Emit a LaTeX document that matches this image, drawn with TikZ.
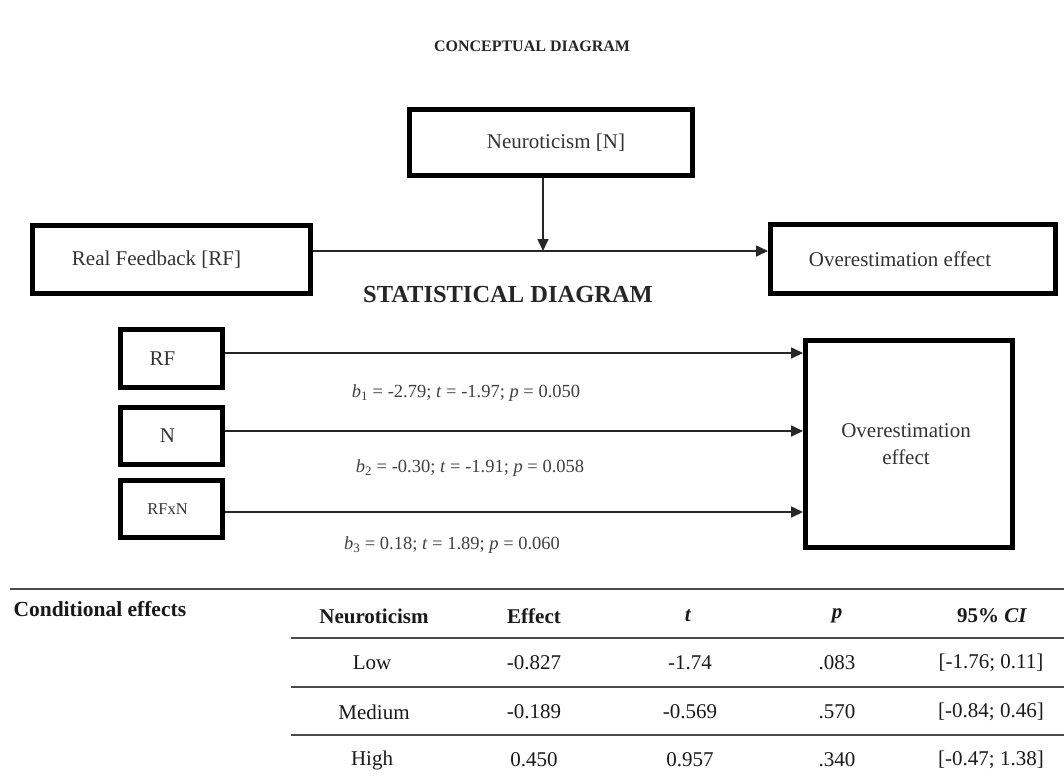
\documentclass[tikz,border=0pt]{standalone}
\usepackage{fontspec}
\setmainfont{Liberation Serif}
\usetikzlibrary{arrows.meta}
\begin{document}
\begin{tikzpicture}[x=1pt,y=-1pt,
  box/.style={draw=black, line width=5pt, inner sep=0pt, text=black!80,
    font=\fontsize{21}{26}\selectfont},
  conn/.style={draw=black!85, line width=1.6pt, -{Triangle[length=12pt,width=11pt]}},
  blbl/.style={text=black!75, font=\fontsize{18.5}{22}\selectfont},
  title/.style={font=\bfseries, text=black!85},
  trule/.style={draw=black!70, line width=1.4pt},
  th/.style={font=\fontsize{21}{24}\selectfont\bfseries, text=black!90},
  td/.style={font=\fontsize{21}{24}\selectfont, text=black!90},
]
\useasboundingbox (0,0) rectangle (1064,780);

% ---------- conceptual diagram ----------
\node[title, font=\fontsize{16}{20}\selectfont\bfseries] (t1) at (532,46) {CONCEPTUAL DIAGRAM};
\node[box, minimum width=283pt, minimum height=66pt] (Nc) at (551,142.5) {\kern10pt Neuroticism [N]};
\node[box, minimum width=278pt, minimum height=68pt] (RFc) at (171.5,259.5) {Real Feedback [RF]\kern30pt};
\node[box, minimum width=285pt, minimum height=69pt] (OEc) at (913,259) {Overestimation effect\kern26pt};
\coordinate (m) at (543,251);
\draw[conn] (RFc.east |- m) -- (OEc.west |- m);
\draw[conn] (Nc.south -| m) -- (m);

% ---------- statistical diagram ----------
\node[title, font=\fontsize{24.5}{28}\selectfont\bfseries] (t2) at (508,294) {STATISTICAL DIAGRAM};
\node[box, minimum width=102pt, minimum height=58pt] (RFs) at (171.5,358.5) {RF\kern18pt};
\node[box, minimum width=102pt, minimum height=57pt] (Ns) at (171.5,436) {N\kern8pt};
\node[box, minimum width=102pt, minimum height=57pt, font=\fontsize{16.5}{20}\selectfont] (RFNs) at (171.5,509) {RFxN\kern8pt};
\node[box, minimum width=207pt, minimum height=207pt, align=center,
  font=\fontsize{21}{27}\selectfont] (OEs) at (909,444) {Overestimation\kern6pt\\effect\kern6pt};
\draw[conn] (RFs.east |- 0,353) -- (OEs.west |- 0,353);
\draw[conn] (Ns.east |- 0,431) -- (OEs.west |- 0,431);
\draw[conn] (RFNs.east |- 0,512) -- (OEs.west |- 0,512);
\node[blbl] (b1) at (466,393) {\textit{b}\textsubscript{1} = -2.79; \textit{t} = -1.97; \textit{p} = 0.050};
\node[blbl] (b2) at (470,468) {\textit{b}\textsubscript{2} = -0.30; \textit{t} = -1.91; \textit{p} = 0.058};
\node[blbl] (b3) at (452,545) {\textit{b}\textsubscript{3} = 0.18; \textit{t} = 1.89; \textit{p} = 0.060};

% ---------- table ----------
\draw[trule] (10,589) -- (1064,589);
\node[th, anchor=west, font=\fontsize{21.5}{24}\selectfont\bfseries] (ce) at (10,609) {Conditional effects};
\node[th] (h1) at (374,616) {Neuroticism};
\node[th] (h2) at (534,616) {Effect};
\node[th] (h3) at (688,616) {\textit{t}};
\node[th] (h4) at (837,616) {\textit{p}};
\node[th] (h5) at (992,616) {95\% \textit{CI}};
\draw[trule] (291,638) -- (1064,638);
\node[td] (r1a) at (372,663) {Low};
\node[td] (r1b) at (534,663) {-0.827};
\node[td] (r1c) at (690,663) {-1.74};
\node[td] (r1d) at (837,663) {.083};
\node[td] (r1e) at (991,663) {[-1.76; 0.11]};
\draw[trule] (291,687) -- (1064,687);
\node[td] (r2a) at (374,712) {Medium};
\node[td] (r2b) at (534,712) {-0.189};
\node[td] (r2c) at (690,712) {-0.569};
\node[td] (r2d) at (837,712) {.570};
\node[td] (r2e) at (991,712) {[-0.84; 0.46]};
\draw[trule] (291,735) -- (1064,735);
\node[td] (r3a) at (372,760) {High};
\node[td] (r3b) at (534,760) {0.450};
\node[td] (r3c) at (690,760) {0.957};
\node[td] (r3d) at (837,760) {.340};
\node[td] (r3e) at (991,760) {[-0.47; 1.38]};
\end{tikzpicture}
\end{document}
